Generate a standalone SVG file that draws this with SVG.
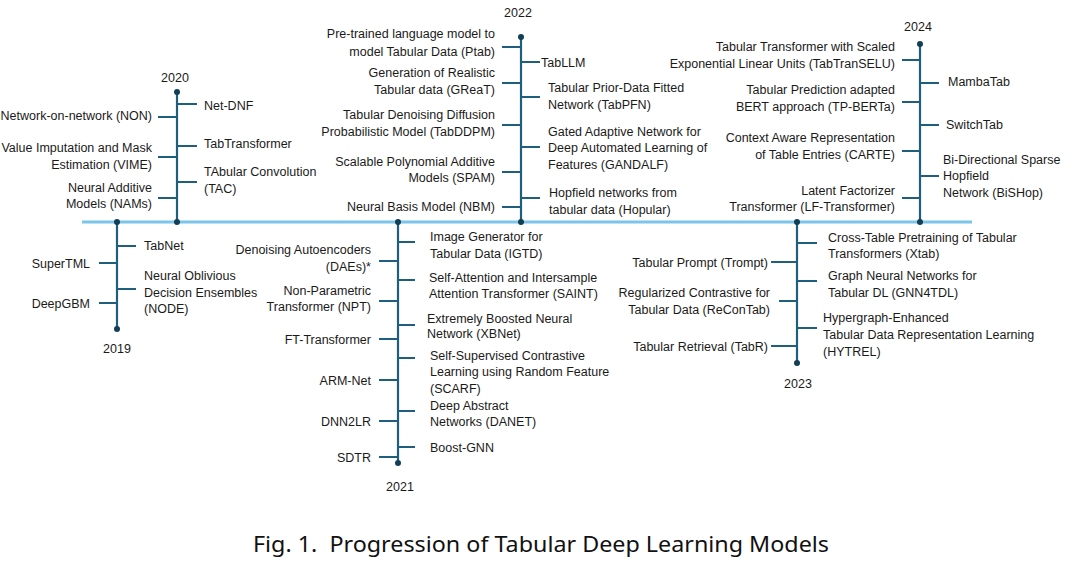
<svg xmlns="http://www.w3.org/2000/svg" width="1089" height="565" viewBox="0 0 1089 565">
<style>
text{font-family:"Liberation Sans",Arial,sans-serif;font-size:12.5px;fill:#1a1a1a}
.l{text-anchor:end}
.y{text-anchor:middle}
.tick{stroke:#1f5f7e;stroke-width:2;fill:none}
.stem{stroke:#1f5f7e;stroke-width:2.2;fill:none}
.axis{stroke:#7cc4ea;stroke-width:3;fill:none}
.dot{fill:#123f55}
.cap{font-family:"Noto Sans","Liberation Sans",sans-serif;font-size:21px;fill:#111}
</style>
<rect width="1089" height="565" fill="#fff"/>
<g id="connectors">
<line class="axis" x1="82" y1="222" x2="972" y2="222"/>
<line class="stem" x1="117" y1="222" x2="117" y2="329"/>
<line class="stem" x1="177" y1="92" x2="177" y2="222"/>
<line class="stem" x1="398" y1="222" x2="398" y2="463"/>
<line class="stem" x1="521" y1="37" x2="521" y2="222"/>
<line class="stem" x1="797" y1="222" x2="797" y2="363"/>
<line class="stem" x1="920" y1="44" x2="920" y2="222"/>
<circle class="dot" cx="117" cy="222" r="3"/><circle class="dot" cx="117" cy="329" r="3"/>
<circle class="dot" cx="177" cy="222" r="3"/><circle class="dot" cx="177" cy="92" r="3"/>
<circle class="dot" cx="398" cy="222" r="3"/><circle class="dot" cx="398" cy="463" r="3"/>
<circle class="dot" cx="521" cy="222" r="3"/><circle class="dot" cx="521" cy="37" r="3"/>
<circle class="dot" cx="797" cy="222" r="3"/><circle class="dot" cx="797" cy="363" r="3"/>
<circle class="dot" cx="920" cy="222" r="3"/><circle class="dot" cx="920" cy="44" r="3"/>
</g>
<g id="years">
<text id="y2019" class="y" x="117" y="353">2019</text>
<text id="y2020" class="y" x="175" y="82">2020</text>
<text id="y2021" class="y" x="400" y="490.5">2021</text>
<text id="y2022" class="y" x="518" y="16.5">2022</text>
<text id="y2023" class="y" x="798" y="387.5">2023</text>
<text id="y2024" class="y" x="918" y="30.5">2024</text>
</g>
<!-- 2019 -->
<g id="tabnet"><line class="tick" x1="117" y1="246" x2="136" y2="246"/><text x="144" y="249.5">TabNet</text></g>
<g id="supertml"><line class="tick" x1="99" y1="263" x2="117" y2="263"/><text class="l" x="90" y="267.5">SuperTML</text></g>
<g id="node"><line class="tick" x1="117" y1="289" x2="136" y2="289"/><text x="144" y="279.5">Neural Oblivious<tspan x="144" dy="17">Decision Ensembles</tspan><tspan x="144" dy="16.5">(NODE)</tspan></text></g>
<g id="deepgbm"><line class="tick" x1="99" y1="303" x2="117" y2="303"/><text class="l" x="90" y="307.5">DeepGBM</text></g>
<!-- 2020 -->
<g id="netdnf"><line class="tick" x1="177" y1="104" x2="197" y2="104"/><text x="204" y="109.5">Net-DNF</text></g>
<g id="non"><line class="tick" x1="158" y1="117" x2="177" y2="117"/><text class="l" x="152" y="119.5">Network-on-network (NON)</text></g>
<g id="tabtransformer"><line class="tick" x1="177" y1="146" x2="197" y2="146"/><text x="204" y="147.5">TabTransformer</text></g>
<g id="vime"><line class="tick" x1="158" y1="157" x2="177" y2="157"/><text class="l" x="152" y="151.5">Value Imputation and Mask<tspan x="152" dy="17">Estimation (VIME)</tspan></text></g>
<g id="tac"><line class="tick" x1="177" y1="182" x2="197" y2="182"/><text x="204" y="175.5">TAbular Convolution<tspan x="204" dy="17">(TAC)</tspan></text></g>
<g id="nams"><line class="tick" x1="158" y1="198" x2="177" y2="198"/><text class="l" x="152" y="191.5">Neural Additive<tspan x="152" dy="16.5">Models (NAMs)</tspan></text></g>
<!-- 2021 -->
<g id="igtd"><line class="tick" x1="398" y1="242" x2="415" y2="242"/><text x="430" y="240.5">Image Generator for<tspan x="430" dy="17">Tabular Data (IGTD)</tspan></text></g>
<g id="daes"><line class="tick" x1="379" y1="261" x2="398" y2="261"/><text class="l" x="371" y="253.5">Denoising Autoencoders<tspan x="371" dy="17.5">(DAEs)*</tspan></text></g>
<g id="saint"><line class="tick" x1="398" y1="280" x2="415" y2="280"/><text x="429" y="281.5">Self-Attention and Intersample<tspan x="429" dy="16">Attention Transformer (SAINT)</tspan></text></g>
<g id="npt"><line class="tick" x1="379" y1="301" x2="398" y2="301"/><text class="l" x="371" y="294.5">Non-Parametric<tspan x="371" dy="16">Transformer (NPT)</tspan></text></g>
<g id="xbnet"><line class="tick" x1="398" y1="325" x2="415" y2="325"/><text x="427" y="322.5">Extremely Boosted Neural<tspan x="427" dy="15.5">Network (XBNet)</tspan></text></g>
<g id="ft"><line class="tick" x1="379" y1="339" x2="398" y2="339"/><text class="l" x="371" y="343.5">FT-Transformer</text></g>
<g id="scarf"><line class="tick" x1="398" y1="358" x2="415" y2="358"/><text x="430" y="359.5">Self-Supervised Contrastive<tspan x="430" dy="16.5">Learning using Random Feature</tspan><tspan x="430" dy="16.5">(SCARF)</tspan></text></g>
<g id="armnet"><line class="tick" x1="379" y1="380" x2="398" y2="380"/><text class="l" x="371" y="384.5">ARM-Net</text></g>
<g id="danet"><line class="tick" x1="398" y1="411" x2="415" y2="411"/><text x="430" y="409.5">Deep Abstract<tspan x="430" dy="16.5">Networks (DANET)</tspan></text></g>
<g id="dnn2lr"><line class="tick" x1="379" y1="421" x2="398" y2="421"/><text class="l" x="371" y="425.5">DNN2LR</text></g>
<g id="boostgnn"><line class="tick" x1="398" y1="447" x2="415" y2="447"/><text x="430" y="451.5">Boost-GNN</text></g>
<g id="sdtr"><line class="tick" x1="379" y1="457" x2="398" y2="457"/><text class="l" x="371" y="461.5">SDTR</text></g>
<!-- 2022 -->
<g id="ptab"><line class="tick" x1="502" y1="47" x2="521" y2="47"/><text class="l" x="495" y="37.5">Pre-trained language model to<tspan x="495" dy="18">model Tabular Data (Ptab)</tspan></text></g>
<g id="tabllm"><line class="tick" x1="521" y1="62" x2="540" y2="62"/><text x="541" y="66.5">TabLLM</text></g>
<g id="great"><line class="tick" x1="502" y1="83" x2="521" y2="83"/><text class="l" x="495" y="76.5">Generation of Realistic<tspan x="495" dy="17">Tabular data (GReaT)</tspan></text></g>
<g id="tabpfn"><line class="tick" x1="521" y1="97" x2="540" y2="97"/><text x="548" y="91.5">Tabular Prior-Data Fitted<tspan x="548" dy="17">Network (TabPFN)</tspan></text></g>
<g id="tabddpm"><line class="tick" x1="502" y1="125" x2="521" y2="125"/><text class="l" x="495" y="118.5">Tabular Denoising Diffusion<tspan x="495" dy="17.5">Probabilistic Model (TabDDPM)</tspan></text></g>
<g id="gandalf"><line class="tick" x1="521" y1="147" x2="540" y2="147"/><text x="548" y="135.5">Gated Adaptive Network for<tspan x="548" dy="16.5">Deep Automated Learning of</tspan><tspan x="548" dy="17">Features (GANDALF)</tspan></text></g>
<g id="spam"><line class="tick" x1="502" y1="172" x2="521" y2="172"/><text class="l" x="495" y="166">Scalable Polynomial Additive<tspan x="495" dy="16">Models (SPAM)</tspan></text></g>
<g id="hopular"><line class="tick" x1="521" y1="198" x2="540" y2="198"/><text x="549" y="196.5">Hopfield networks from<tspan x="549" dy="17">tabular data (Hopular)</tspan></text></g>
<g id="nbm"><line class="tick" x1="502" y1="207" x2="521" y2="207"/><text class="l" x="495" y="210.5">Neural Basis Model (NBM)</text></g>
<!-- 2023 -->
<g id="xtab"><line class="tick" x1="797" y1="243" x2="817" y2="243"/><text x="828" y="241.5">Cross-Table Pretraining of Tabular<tspan x="828" dy="16.5">Transformers (Xtab)</tspan></text></g>
<g id="trompt"><line class="tick" x1="771" y1="262" x2="797" y2="262"/><text class="l" x="768" y="266.5">Tabular Prompt (Trompt)</text></g>
<g id="gnn4tdl"><line class="tick" x1="797" y1="281" x2="817" y2="281"/><text x="828" y="279.5">Graph Neural Networks for<tspan x="828" dy="17">Tabular DL (GNN4TDL)</tspan></text></g>
<g id="recontab"><line class="tick" x1="779" y1="301" x2="797" y2="301"/><text class="l" x="770" y="296.5">Regularized Contrastive for<tspan x="770" dy="17">Tabular Data (ReConTab)</tspan></text></g>
<g id="hytrel"><line class="tick" x1="797" y1="328" x2="817" y2="328"/><text x="823" y="321.5">Hypergraph-Enhanced<tspan x="823" dy="17">Tabular Data Representation Learning</tspan><tspan x="823" dy="17">(HYTREL)</tspan></text></g>
<g id="tabr"><line class="tick" x1="771" y1="346" x2="797" y2="346"/><text class="l" x="768" y="350.5">Tabular Retrieval (TabR)</text></g>
<!-- 2024 -->
<g id="tabtranselu"><line class="tick" x1="902" y1="60" x2="920" y2="60"/><text class="l" x="895" y="50.5">Tabular Transformer with Scaled<tspan x="895" dy="17">Exponential Linear Units (TabTranSELU)</tspan></text></g>
<g id="mambatab"><line class="tick" x1="920" y1="83" x2="939" y2="83"/><text x="948" y="85.5">MambaTab</text></g>
<g id="tpberta"><line class="tick" x1="902" y1="102" x2="920" y2="102"/><text class="l" x="895" y="93.5">Tabular Prediction adapted<tspan x="895" dy="17">BERT approach (TP-BERTa)</tspan></text></g>
<g id="switchtab"><line class="tick" x1="920" y1="125" x2="939" y2="125"/><text x="946" y="128.5">SwitchTab</text></g>
<g id="carte"><line class="tick" x1="902" y1="151" x2="920" y2="151"/><text class="l" x="895" y="141.5">Context Aware Representation<tspan x="895" dy="17">of Table Entries (CARTE)</tspan></text></g>
<g id="bishop"><line class="tick" x1="920" y1="176" x2="939" y2="176"/><text x="943" y="163.5">Bi-Directional Sparse<tspan x="943" dy="16">Hopfield</tspan><tspan x="943" dy="17">Network (BiSHop)</tspan></text></g>
<g id="lftransformer"><line class="tick" x1="902" y1="198" x2="920" y2="198"/><text class="l" x="895" y="194.5">Latent Factorizer<tspan x="895" dy="16">Transformer (LF-Transformer)</tspan></text></g>
<g id="caption"><text class="cap" x="253" y="552" textLength="576" lengthAdjust="spacingAndGlyphs" xml:space="preserve">Fig. 1.  Progression of Tabular Deep Learning Models</text></g>
</svg>
